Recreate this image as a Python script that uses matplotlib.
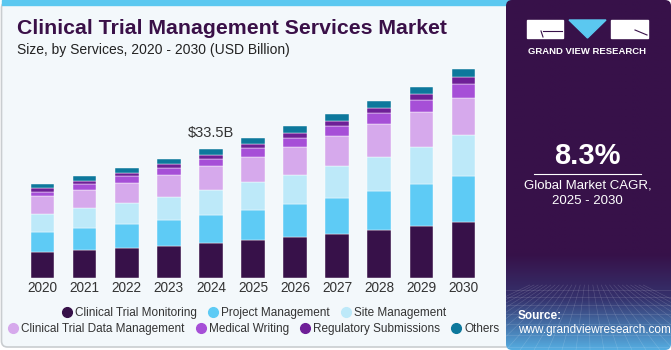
import numpy as np
import matplotlib.pyplot as plt
from matplotlib.patches import FancyBboxPatch, Rectangle, Polygon
from matplotlib.lines import Line2D
from matplotlib.colors import to_rgb

plt.rcParams['font.family'] = ['Liberation Sans', 'DejaVu Sans']

# data (USD Billion)
years = ['2020', '2021', '2022', '2023', '2024', '2025', '2026', '2027', '2028', '2029', '2030']
segments = ['Clinical Trial Monitoring', 'Project Management', 'Site Management',
            'Clinical Trial Data Management', 'Medical Writing', 'Regulatory Submissions', 'Others']
monitoring = [6.84, 7.27, 7.96, 8.48, 9.26, 9.95, 10.73, 11.60, 12.55, 13.50, 14.63]
project_mgmt = [5.19, 5.80, 6.15, 6.67, 7.27, 7.88, 8.66, 9.35, 10.13, 10.99, 11.95]
site_mgmt = [4.76, 5.11, 5.54, 6.06, 6.49, 7.18, 7.53, 8.22, 8.92, 9.61, 10.56]
data_mgmt = [4.50, 4.85, 5.19, 5.63, 6.06, 6.49, 7.10, 7.70, 8.40, 9.09, 9.78]
medical_writing = [1.21, 1.38, 1.73, 1.82, 1.99, 2.25, 2.51, 2.77, 2.86, 3.12, 3.55]
regulatory = [0.95, 0.87, 0.87, 1.04, 1.04, 1.21, 1.30, 1.30, 1.47, 1.64, 1.73]
others = [1.04, 1.21, 1.21, 1.21, 1.38, 1.38, 1.64, 1.73, 1.73, 1.82, 2.16]
colors = ['#371149', '#5ecbf5', '#bde9f9', '#d6a9ec', '#a64fd7', '#6e1f97', '#0d789c']
callout_year = '2024'
callout_text = '$33.5B'

W, H = 671, 350
fig = plt.figure(figsize=(W / 100, H / 100), dpi=100)

# background layer in pixel coordinates
bg = fig.add_axes([0, 0, 1, 1])
bg.set_xlim(0, W)
bg.set_ylim(H, 0)
bg.axis('off')
bg.add_patch(Rectangle((0, 0), W, H, color='white', zorder=0))
bg.add_patch(FancyBboxPatch((1.5, 2), 515, 345, boxstyle='round,pad=0,rounding_size=6',
                            fc='#f3f8fb', ec='#c9cdd0', lw=1.2, zorder=1))
bg.add_patch(Rectangle((1.5, 0), 510, 5, color='#5bc8f0', zorder=2))

# right panel with gradient at the bottom
c_top, c_mid, c_bot = np.array(to_rgb('#371149')), np.array(to_rgb('#35336e')), np.array(to_rgb('#55ace0'))
rows = []
for y in np.linspace(0, H, 200):
    if y < 255:
        rows.append(c_top)
    elif y < 300:
        t = (y - 255) / 45
        rows.append(c_top * (1 - t) + c_mid * t)
    else:
        t = (y - 300) / 50
        rows.append(c_mid * (1 - t) + c_bot * t)
img = np.array(rows)[:, None, :].repeat(2, axis=1)
panel = FancyBboxPatch((506, 0), 165, H, boxstyle='round,pad=0,rounding_size=6',
                       fc='none', ec='none', zorder=3)
bg.add_patch(panel)
im = bg.imshow(img, extent=[506, W, H, 0], aspect='auto', zorder=3)
im.set_clip_path(panel)
# faint perspective grid
for k in range(-8, 20):
    x0 = 506 + k * 14
    bg.plot([588 + (x0 - 588) * 0.3, x0], [285, H], color='white', lw=0.4, alpha=0.18, zorder=4,
            clip_path=panel)
for yy in [290, 297, 305, 314, 324, 335, 347]:
    bg.plot([506, W], [yy, yy], color='white', lw=0.4, alpha=0.18, zorder=4)

# logo
bg.add_patch(Rectangle((527, 20), 36, 18, color='white', zorder=5))
bg.add_patch(Polygon([[569, 20], [606, 20], [587.5, 38]], color='#5bc8f0', zorder=5))
bg.add_patch(Rectangle((611, 20), 37, 18, color='white', zorder=5))
bg.plot([543, 562], [31, 31], color='#371149', lw=0.8, zorder=6)
bg.plot([541, 543], [31, 37], color='#371149', lw=0.8, zorder=6)
bg.plot([635, 647], [30, 35], color='#371149', lw=0.8, zorder=6)
bg.text(587.5, 51, 'GRAND VIEW RESEARCH', color='white', fontsize=6.8, fontweight='bold',
        ha='center', va='center', zorder=6)

bg.text(587.5, 156, '8.3%', color='white', fontsize=21, fontweight='bold',
        ha='center', va='center', zorder=6)
bg.plot([534, 641], [173.5, 173.5], color='white', lw=0.8, zorder=6)
bg.text(587.5, 186, 'Global Market CAGR,', color='white', fontsize=9.5, ha='center', va='center', zorder=6)
bg.text(587.5, 201, '2025 - 2030', color='white', fontsize=9.5, ha='center', va='center', zorder=6)
bg.text(518, 316, 'Source:', color='white', fontsize=8.5, fontweight='bold', ha='left', va='center', zorder=6)
bg.text(518, 330, 'www.grandviewresearch.com', color='white', fontsize=8.5, ha='left', va='center', zorder=6)

# titles
bg.text(17, 28, 'Clinical Trial Management Services Market', color='#3a1048', fontsize=15.3,
        fontweight='heavy', ha='left', va='center', zorder=6)
bg.text(17, 50, 'Size, by Services, 2020 - 2030 (USD Billion)', color='#222222', fontsize=10,
        ha='left', va='center', zorder=6)

# chart axes
px_per_b = 3.85
x_left, x_right = 17.5, 488.5
base_y = 278.3
top_val = 60
ax = fig.add_axes([x_left / W, 1 - base_y / H, (x_right - x_left) / W, top_val * px_per_b / H])
ax.set_facecolor('none')
ax.set_xlim(-0.6, 10.6)
ax.set_ylim(0, top_val)
ax.set_axis_off()

series = [monitoring, project_mgmt, site_mgmt, data_mgmt, medical_writing, regulatory, others]
x = np.arange(len(years))
bottom = np.zeros(len(years))
for vals, col in zip(series, colors):
    ax.bar(x, vals, bottom=bottom, width=0.555, color=col, edgecolor='#ffffff', linewidth=0.3)
    bottom += np.array(vals)

for xi, yr in zip(x, years):
    ax.text(xi, -2.5, yr, ha='center', va='center', fontsize=9.8, color='#333333')

ci = years.index(callout_year)
ax.annotate(callout_text, (ci, bottom[ci]), xytext=(0, 7), textcoords='offset points',
            ha='center', va='bottom', fontsize=10.5, color='#333333')

# legend (two rows)
def handle(c):
    return Line2D([], [], marker='o', color='none', markerfacecolor=c, markeredgecolor=c, markersize=7)

leg_kw = dict(loc='center', frameon=False, fontsize=8.5, handletextpad=0.15,
              columnspacing=0.8, handlelength=1.1, borderpad=0, borderaxespad=0)
leg1 = fig.legend([handle(c) for c in colors[:3]], segments[:3], ncol=3,
                  bbox_to_anchor=(253 / W, 1 - 312.7 / H), **leg_kw)
leg2 = fig.legend([handle(c) for c in colors[3:]], segments[3:], ncol=4,
                  bbox_to_anchor=(253 / W, 1 - 328.7 / H), **leg_kw)
for lg in (leg1, leg2):
    for t in lg.get_texts():
        t.set_color('#333333')

fig.savefig('out.png', dpi=100)
